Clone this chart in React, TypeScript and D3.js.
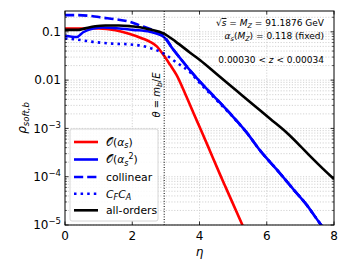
import React from 'react';
import * as d3 from 'd3';

// values
const etaLO = [0, 0.5, 1.0, 1.5, 1.93, 2.3, 2.53, 2.73, 2.93, 3.12, 3.32, 3.62, 3.92, 4.25, 4.59, 4.79, 5.29, 5.5];
const rhoLO = [0.117, 0.117, 0.118, 0.108, 0.09, 0.073, 0.062, 0.05, 0.033, 0.021, 0.0127, 0.0044, 0.00145, 4.3e-4, 1.2e-4, 5.8e-5, 9.5e-6, 4.5e-6];

const etaNLO = [0, 0.35, 0.54, 0.84, 1.13, 1.54, 2.02, 2.53, 2.93, 3.2, 3.47, 3.75, 4.02, 4.5, 5.0, 5.4, 5.8, 6.3, 6.79, 7.17, 7.62, 8.0];
const rhoNLO = [0.083, 0.078, 0.098, 0.117, 0.123, 0.119, 0.11, 0.1, 0.079, 0.045, 0.026, 0.015, 0.0092, 0.0041, 0.00174, 8.3e-4, 3.5e-4, 1.4e-4, 5.5e-5, 2.7e-5, 1.0e-5, 5e-6];

const etaColl = [0, 0.3, 0.83, 1.04, 1.5, 1.93, 2.3, 2.53, 2.73, 2.93, 3.2, 3.47, 3.75, 4.02, 4.5, 5.0, 5.4, 5.8, 6.3, 6.79, 7.17, 7.62, 8.0];
const rhoColl = [0.222, 0.222, 0.211, 0.2, 0.182, 0.161, 0.13, 0.115, 0.1, 0.084, 0.045, 0.026, 0.015, 0.0092, 0.0041, 0.00174, 8.3e-4, 3.5e-4, 1.4e-4, 5.5e-5, 2.7e-5, 1.0e-5, 5e-6];

const etaCFCA = [0, 0.3, 0.83, 1.4, 1.93, 2.5, 2.93, 3.3, 3.72, 4.02, 4.5, 5.0, 5.4, 5.8, 6.3, 6.79, 7.17, 7.62, 8.0];
const rhoCFCA = [0.073, 0.07, 0.062, 0.057, 0.055, 0.047, 0.0357, 0.0236, 0.0145, 0.0085, 0.0039, 0.0017, 8.2e-4, 3.5e-4, 1.4e-4, 5.5e-5, 2.7e-5, 1.0e-5, 5e-6];

const etaAll = [0, 0.4, 0.6, 0.9, 1.2, 1.6, 1.93, 2.3, 2.53, 2.93, 3.3, 3.72, 4.02, 4.5, 5.06, 5.6, 6.1, 6.58, 7.0, 7.26, 7.56, 8.0];
const rhoAll = [0.11, 0.11, 0.118, 0.13, 0.135, 0.135, 0.131, 0.122, 0.112, 0.093, 0.062, 0.037, 0.0259, 0.0136, 0.0064, 0.0031, 0.00158, 8.3e-4, 4.3e-4, 2.8e-4, 1.74e-4, 8.9e-5];

const xTicks = [0, 2, 4, 6, 8];
const yMajor = [1e-5, 1e-4, 1e-3, 0.01, 0.1];
const yMajorLabels = [['10', '\u22125'], ['10', '\u22124'], ['10', '\u22123'], ['0.01', ''], ['0.1', '']];
const etaCut = 2.95;

const W = 352, H = 265;
const L = 65, R = 334, T = 11, B = 225;
const font = 'DejaVu Sans, sans-serif';

export default function App() {
  const x = d3.scaleLinear().domain([0, 8]).range([L, R]);
  const y = d3.scaleLog().domain([1e-5, 0.27]).range([B, T]);

  const line = d3.line<[number, number]>()
    .x(d => x(d[0]))
    .y(d => y(d[1]))
    .curve(d3.curveMonotoneX);
  const path = (e: number[], v: number[]) => line(e.map((d, i) => [d, v[i]] as [number, number])) || '';

  // minor ticks 2..9 per decade
  const yMinor: number[] = [];
  for (let p = -5; p <= -1; p++) {
    for (let k = 2; k <= 9; k++) {
      const v = k * Math.pow(10, p);
      if (v <= 0.27) yMinor.push(v);
    }
  }

  const series = [
    { label: 'as', d: path(etaLO, rhoLO), color: '#ff0000', dash: 'none' },
    { label: 'as2', d: path(etaNLO, rhoNLO), color: '#0000ff', dash: 'none' },
    { label: 'collinear', d: path(etaColl, rhoColl), color: '#0000ff', dash: '9.2,4' },
    { label: 'cfca', d: path(etaCFCA, rhoCFCA), color: '#0000ff', dash: '2.5,4.1' },
    { label: 'all-orders', d: path(etaAll, rhoAll), color: '#000000', dash: 'none' },
  ];

  const legY = [142, 159.5, 177, 193.7, 210.3];
  const legendText = (i: number) => {
    if (i === 0) return (<>{'\uD835\uDCAA('}<tspan fontStyle="italic">α</tspan><tspan fontStyle="italic" fontSize={8} dy={2.5}>s</tspan><tspan dy={-2.5}>)</tspan></>);
    if (i === 1) return (<>{'\uD835\uDCAA('}<tspan fontStyle="italic">α</tspan><tspan fontStyle="italic" fontSize={8} dy={2.5}>s</tspan><tspan fontSize={8} dy={-7}>2</tspan><tspan dy={4.5}>)</tspan></>);
    if (i === 2) return 'collinear';
    if (i === 3) return (<><tspan fontStyle="italic">C</tspan><tspan fontStyle="italic" fontSize={8} dy={2.5}>F</tspan><tspan fontStyle="italic" dy={-2.5}>C</tspan><tspan fontStyle="italic" fontSize={8} dy={2.5}>A</tspan></>);
    return 'all-orders';
  };

  return (
    <svg width={W} height={H} style={{ position: 'absolute', left: 0, top: 0, background: '#fff' }} fontFamily={font}>
      <defs>
        <clipPath id="plot"><rect x={L} y={T} width={R - L} height={B - T} /></clipPath>
      </defs>
      {/* grid */}
      <g stroke="#c8c8c8" strokeWidth={0.8} strokeDasharray="1.2,1.6">
        {[...yMajor, ...yMinor].map((v, i) => (
          <line key={'gy' + i} x1={L} x2={R} y1={y(v)} y2={y(v)} />
        ))}
        {xTicks.slice(1, -1).map(t => (
          <line key={'gx' + t} x1={x(t)} x2={x(t)} y1={T} y2={B} />
        ))}
      </g>
      {/* curves */}
      <g clipPath="url(#plot)" fill="none" strokeWidth={2.6}>
        {series.map(s => (
          <path key={s.label} d={s.d} stroke={s.color} strokeDasharray={s.dash} />
        ))}
      </g>
      {/* cut line */}
      <line x1={x(etaCut)} x2={x(etaCut)} y1={T} y2={B} stroke="#000" strokeWidth={1} strokeDasharray="1,1.6" />
      <text transform={`translate(${x(etaCut) - 4},95) rotate(-90)`} textAnchor="middle" fontSize={10}>
        <tspan fontStyle="italic">θ</tspan> = <tspan fontStyle="italic">m</tspan><tspan fontStyle="italic" fontSize={7.5} dy={2}>b</tspan><tspan dy={-2}>/</tspan><tspan fontStyle="italic">E</tspan>
      </text>
      {/* frame and ticks */}
      <rect x={L} y={T} width={R - L} height={B - T} fill="none" stroke="#000" strokeWidth={1} />
      <g stroke="#000" strokeWidth={0.8}>
        {xTicks.map(t => (
          <g key={'xt' + t}>
            <line x1={x(t)} x2={x(t)} y1={B} y2={B - 3.5} />
            <line x1={x(t)} x2={x(t)} y1={T} y2={T + 3.5} />
          </g>
        ))}
        {yMajor.map(v => (
          <g key={'ym' + v}>
            <line x1={L} x2={L + 3.5} y1={y(v)} y2={y(v)} />
            <line x1={R} x2={R - 3.5} y1={y(v)} y2={y(v)} />
          </g>
        ))}
        {yMinor.map(v => (
          <g key={'yn' + v}>
            <line x1={L} x2={L + 2} y1={y(v)} y2={y(v)} strokeWidth={0.6} />
            <line x1={R} x2={R - 2} y1={y(v)} y2={y(v)} strokeWidth={0.6} />
          </g>
        ))}
      </g>
      {/* tick labels */}
      <g fontSize={12} fill="#000">
        {xTicks.map(t => (
          <text key={'xl' + t} x={x(t)} y={240} textAnchor="middle">{t}</text>
        ))}
        {yMajor.map((v, i) => {
          const [base, exp] = yMajorLabels[i];
          return (
            <text key={'yl' + v} x={61} y={y(v) + 4.3} textAnchor="end">
              {base}
              {exp && <tspan fontSize={8.5} dy={-5}>{exp}</tspan>}
            </text>
          );
        })}
      </g>
      {/* axis labels */}
      <text x={199.5} y={256} textAnchor="middle" fontSize={12} fontStyle="italic">η</text>
      <text transform="translate(26,118) rotate(-90)" textAnchor="middle" fontSize={12}>
        <tspan fontStyle="italic">ρ</tspan><tspan fontStyle="italic" fontSize={8.5} dy={3}>soft,b</tspan>
      </text>
      {/* annotations */}
      <g fontSize={9} textAnchor="end">
        <text x={324} y={26}>√<tspan fontStyle="italic" textDecoration="overline">s</tspan> = <tspan fontStyle="italic">M</tspan><tspan fontStyle="italic" fontSize={6.5} dy={2}>Z</tspan><tspan dy={-2}> = 91.1876 GeV</tspan></text>
        <text x={324} y={38.5}><tspan fontStyle="italic">α</tspan><tspan fontStyle="italic" fontSize={6.5} dy={2}>s</tspan><tspan dy={-2}>(</tspan><tspan fontStyle="italic">M</tspan><tspan fontStyle="italic" fontSize={6.5} dy={2}>Z</tspan><tspan dy={-2}>) = 0.118 (fixed)</tspan></text>
        <text x={324} y={63}>0.00030 &lt; <tspan fontStyle="italic">z</tspan> &lt; 0.00034</text>
      </g>
      {/* legend */}
      <g>
        <rect x={70} y={129} width={88} height={92} rx={2} fill="#fff" fillOpacity={0.85} stroke="#cccccc" strokeWidth={0.8} />
        {series.map((s, i) => (
          <g key={'lg' + s.label}>
            <line x1={74} x2={98} y1={legY[i]} y2={legY[i]} stroke={s.color} strokeWidth={2.6} strokeDasharray={s.dash} />
            <text x={106} y={legY[i] + 3.8} fontSize={10.8}>{legendText(i)}</text>
          </g>
        ))}
      </g>
    </svg>
  );
}
